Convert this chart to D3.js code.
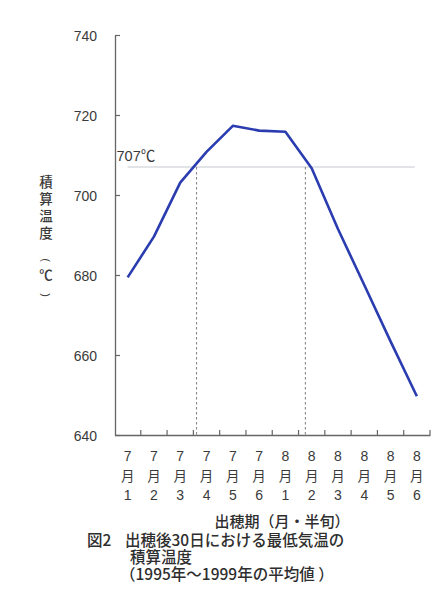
<!DOCTYPE html>
<html><head><meta charset="utf-8">
<script src="https://cdn.jsdelivr.net/npm/d3@7"></script>
<style>
html,body{margin:0;padding:0;background:#fff;}
svg{display:block;}
text{font-family:"Liberation Sans","Noto Sans CJK JP",sans-serif;}
.jp{font-family:"Noto Sans CJK JP","Liberation Sans",sans-serif;}
</style></head>
<body>
<script>
const months = ["7","7","7","7","7","7","8","8","8","8","8","8"];
const halfPeriods = ["1","2","3","4","5","6","1","2","3","4","5","6"];
const categories = months.map((m,i)=>m+"月"+halfPeriods[i]);
const values = [679.4, 689.6, 703.1, 710.8, 717.3, 716.1, 715.8, 706.7, 691.5, 677.5, 663.4, 649.7];
const yTicks = [640, 660, 680, 700, 720, 740];
const threshold = 707;
const thresholdLabel = "707℃";
const crossings = [2.62, 6.76]; // category-index positions where 707℃ is reached
const yTitleChars = ["積","算","温","度","(","℃",")"];
const xTitle = "出穂期（月・半旬）";
const captionLines = ["出穂後30日における最低気温の","積算温度","（1995年～1999年の平均値 ）"];
const captionPrefix = "図2";

const W = 442, H = 600;
const svg = d3.select("body").append("svg").attr("width", W).attr("height", H);

const x = d3.scaleBand().domain(categories).range([114.5, 430]).padding(0);
const y = d3.scaleLinear().domain([640, 740]).range([435, 35]);
const xi = d3.scaleLinear().domain([0, categories.length - 1])
  .range([x(categories[0]) + x.bandwidth()/2, x(categories[categories.length-1]) + x.bandwidth()/2]);

const axisColor = "#666";
const textColor = "#3a3a3a";

// threshold line
svg.append("line")
  .attr("x1", xi(0)).attr("x2", xi(11) - 2)
  .attr("y1", y(threshold)).attr("y2", y(threshold))
  .attr("stroke", "#c4c8d0").attr("stroke-width", 1);
svg.append("text")
  .attr("x", 116.5).attr("y", y(threshold) - 6)
  .attr("font-size", 14.5).attr("fill", textColor)
  .text(thresholdLabel);

// vertical dashed lines at crossings
svg.selectAll("line.cross").data(crossings).enter().append("line")
  .attr("class","cross")
  .attr("x1", d => xi(d)).attr("x2", d => xi(d))
  .attr("y1", y(threshold)).attr("y2", y(640))
  .attr("stroke", "#888").attr("stroke-width", 1.1)
  .attr("stroke-dasharray", "2.5,2.5");

// y axis
const yAxis = d3.axisLeft(y).tickValues(yTicks).tickSizeInner(-5).tickSizeOuter(0).tickPadding(18);
const gy = svg.append("g").attr("transform", "translate(115,0)").call(yAxis);
gy.select(".domain").attr("stroke", axisColor).attr("stroke-width", 1.3);
gy.selectAll(".tick line").attr("stroke", axisColor).attr("stroke-width", 1.2);
gy.selectAll(".tick text").attr("font-size", 14).attr("fill", textColor)
  .attr("font-family", "Liberation Sans, sans-serif").attr("dy", "0.42em");

// x axis
const gx = svg.append("g").attr("transform", `translate(0,${y(640)})`)
  .call(d3.axisBottom(x).tickValues([]).tickSizeOuter(0));
gx.select(".domain").attr("stroke", axisColor).attr("stroke-width", 1.3);
gx.selectAll("line.xt").data(categories).enter().append("line")
  .attr("class","xt")
  .attr("x1", d => x(d) + x.bandwidth()).attr("x2", d => x(d) + x.bandwidth())
  .attr("y1", 0).attr("y2", -5)
  .attr("stroke", axisColor).attr("stroke-width", 1.2);

// x tick labels (stacked)
const lab = svg.append("g").selectAll("g").data(categories).enter().append("g")
  .attr("transform", d => `translate(${x(d) + x.bandwidth()/2},0)`);
lab.append("text").attr("y", 461).attr("text-anchor","middle").attr("font-size", 14)
  .attr("fill", textColor).text((d,i) => months[i]);
lab.append("text").attr("class","jp").attr("y", 481).attr("text-anchor","middle").attr("font-size", 13.5)
  .attr("fill", textColor).text("月");
lab.append("text").attr("y", 500).attr("text-anchor","middle").attr("font-size", 14)
  .attr("fill", textColor).text((d,i) => halfPeriods[i]);

// x title
svg.append("text").attr("class","jp").attr("x", 282).attr("y", 527)
  .attr("text-anchor","middle").attr("font-size", 15).attr("font-weight", 500)
  .attr("fill", "#2e2e2e").text(xTitle);

// y title (vertical); parentheses rotated for vertical writing
const yTitleCenters = [180.5, 198, 214.5, 231.5, 260, 273.5, 295];
svg.append("g").selectAll("text").data(yTitleChars).enter().append("text")
  .attr("class", d => (d === "(" || d === ")") ? null : "jp")
  .attr("text-anchor","middle").attr("dominant-baseline","central")
  .attr("transform", (d,i) => `translate(46,${yTitleCenters[i]})` + ((d === "(" || d === ")") ? " rotate(90)" : ""))
  .attr("font-size", d => (d === "(" || d === ")") ? 11 : 13.5)
  .attr("font-weight", d => (d === "(" || d === ")") ? 400 : 500)
  .attr("fill", textColor).text(d => d);

// data line
const line = d3.line().x((d,i) => x(categories[i]) + x.bandwidth()/2).y(d => y(d));
svg.append("path").datum(values).attr("d", line)
  .attr("fill","none").attr("stroke","#2a3cb0").attr("stroke-width", 2.6)
  .attr("stroke-linejoin","round");

// caption
svg.append("text").attr("class","jp").attr("x", 87).attr("y", 546)
  .attr("font-size", 15.5).attr("font-weight", 500).attr("fill", "#2e2e2e").text(captionPrefix);
svg.append("g").selectAll("text").data(captionLines).enter().append("text")
  .attr("class","jp")
  .attr("x", (d,i) => i === 0 ? 125 : (i === 1 ? 130 : 120))
  .attr("y", (d,i) => 546 + i * 17)
  .attr("font-size", 15.5).attr("font-weight", 500).attr("fill", "#2e2e2e")
  .text(d => d);
</script>
</body></html>
